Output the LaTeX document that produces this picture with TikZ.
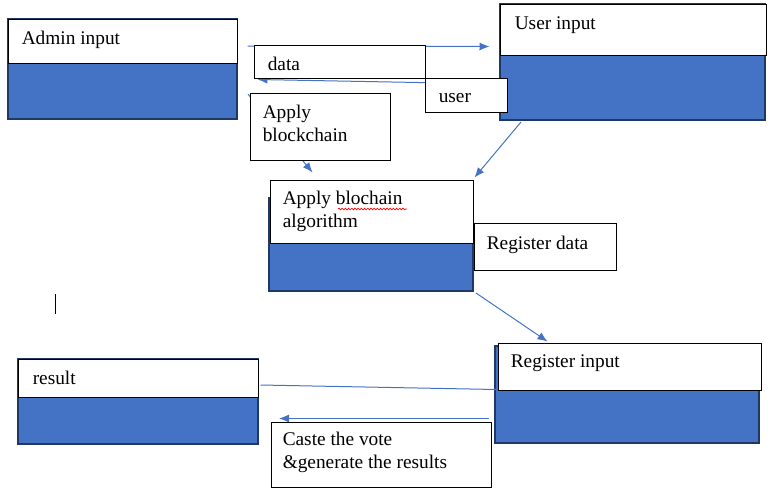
\documentclass[tikz,border=0pt]{standalone}
\usepackage{fontspec}
\setmainfont{Liberation Serif}
\usetikzlibrary{positioning, fit, calc, arrows.meta, decorations.pathmorphing}
\definecolor{boxblue}{RGB}{68,114,196}
\definecolor{navyline}{RGB}{31,56,100}
\begin{document}
\begin{tikzpicture}[x=0.75pt, y=-0.75pt, >={Latex[length=7.5pt,width=6pt]}]
        \tikzstyle{bluebox}=[draw=navyline, line width=1.5pt, fill=boxblue, inner sep=0pt]
        \tikzstyle{topbox}=[draw=black, line width=0.75pt, fill=white, inner sep=0pt]
        \tikzstyle{tag}=[draw=black, line width=0.75pt, fill=white, inner sep=0pt]
        \tikzstyle{txt}=[anchor=base west, inner sep=0pt, align=left, font=\fontsize{14.5}{17.25}\selectfont]
        \tikzstyle{flow}=[draw=boxblue, line width=0.75pt]
        \useasboundingbox (0,0) rectangle (775,494);

        % Input boxes
        \node[bluebox, fit={(8,19) (237,119)}] (adminbox) {};
        \node[topbox, fit={(8,19) (237,63)}] (admintop) {};
        \node[bluebox, fit={(500,4) (765,120)}] (userbox) {};
        \node[topbox, fit={(500,4) (766,55)}] (usertop) {};

        % Algorithm box
        \node[bluebox, fit={(269,198) (473,291)}] (algobox) {};
        \node[topbox, fit={(270,180) (473,243)}] (algotop) {};

        % Register and result boxes
        \node[bluebox, fit={(495,346) (759,443)}] (regbox) {};
        \node[topbox, fit={(498,343) (761,390)}] (regtop) {};
        \node[bluebox, fit={(18,359) (258,444)}] (resultbox) {};
        \node[topbox, fit={(18,359) (258,397)}] (resulttop) {};

        % Connectors
        \draw[flow, ->] ($(admintop.east)+(10,5)$) -- ($(usertop.west)+(-10,17)$);
        \draw[flow, ->] ($(userbox.west)+(0,22)$) -- ($(admintop.south east)+(20,16)$);
        \draw[flow, ->] ($(adminbox.south east)+(10,-26)$) -- ($(algotop.north west)+(43,-7)$);
        \draw[flow, ->] ($(userbox.south west)+(22,1)$) -- ($(algotop.north east)+(1,-2)$);
        \draw[flow, ->] ($(algobox.south east)+(2,1)$) -- ($(regtop.north west)+(50,-1)$);
        \draw[flow] ($(resulttop.east)+(2,7)$) -- ($(regtop.south west)+(-1,-1)$);
        \draw[flow, ->] ($(regbox.west)+(-5,24)$) -- ($(resultbox.east)+(20,17)$);

        % Labels on the connectors
        \node[tag, fit={(254,45) (425,78)}] (datatag) {};
        \node[tag, fit={(425,78) (507,112)}] (usertag) {};
        \node[tag, fit={(250,93) (390,160)}] (applytag) {};
        \node[tag, fit={(474,223) (616,270)}] (regdatatag) {};
        \node[tag, fit={(271,422) (491,487)}] (castetag) {};

        % Texts (two-line texts sit on their last line)
        \node[txt] (admintext) at ($(admintop.north west)+(14,26)$) {Admin input};
        \node[txt] (usertext) at ($(usertop.north west)+(15,26)$) {User input};
        \node[txt] (algotext) at ($(algotop.north west)+(13,48)$) {Apply blochain\\algorithm};
        \node[txt] (regtext) at ($(regtop.north west)+(13,25)$) {Register input};
        \node[txt] (resulttext) at ($(resulttop.north west)+(15,26)$) {result};
        \node[txt] (datatext) at ($(datatag.north west)+(14,26)$) {data};
        \node[txt] (usertagtext) at ($(usertag.north west)+(14,25)$) {user};
        \node[txt] (applytext) at ($(applytag.north west)+(13,49)$) {Apply\\blockchain};
        \node[txt] (regdatatext) at ($(regdatatag.north west)+(13,27)$) {Register data};
        \node[txt] (castetext) at ($(castetag.north west)+(12,47)$) {Caste the vote\\\&generate the results};

        % Spelling mark and cursor
        \draw[red, line width=0.5pt, decorate, decoration={snake, amplitude=0.6pt, segment length=2.4pt}] (338,209) -- (407,209);
        \draw[line width=0.75pt] (55,294) -- (55,314);
\end{tikzpicture}
\end{document}
